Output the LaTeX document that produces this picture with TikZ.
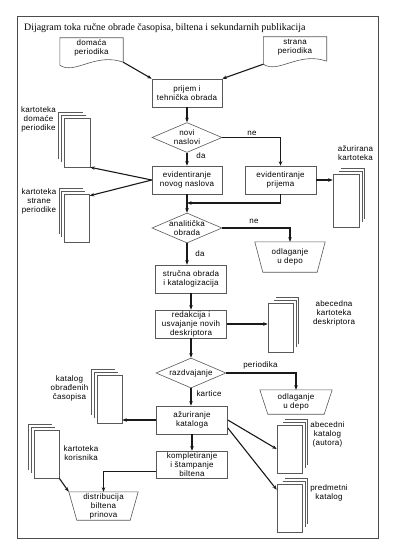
\documentclass[tikz,border=0pt]{standalone}
\usepackage{fontspec}
\setmainfont{Liberation Serif}
\setsansfont[LetterSpace=3]{Liberation Sans}
\usetikzlibrary{shapes.geometric, arrows.meta, positioning}

\tikzset{
  txt/.style={font=\sffamily\fontsize{8}{9}\selectfont, align=center, inner sep=0pt},
  shapeline/.style={draw=black!65, line width=0.6pt},
  process/.style={txt, shapeline, rectangle, minimum width=70pt, minimum height=28pt},
  decision/.style={txt, shapeline, diamond, minimum width=70pt, minimum height=30pt,
    inner xsep=-14pt, inner ysep=-6pt},
  docshape/.style={txt, minimum width=63pt, minimum height=20pt,
    append after command={\pgfextra{
      \draw[shapeline] ([yshift=-4pt]\tikzlastnode.south east) -- (\tikzlastnode.north east)
        -- (\tikzlastnode.north west) -- ([yshift=-7pt]\tikzlastnode.south west)
        .. controls +(15pt,-10pt) and +(-28pt,10pt) .. ([yshift=-4pt]\tikzlastnode.south east);}}},
  trapbox/.style={txt, minimum width=70pt, minimum height=30pt,
    append after command={\pgfextra{
      \draw[shapeline] (\tikzlastnode.north west) -- (\tikzlastnode.north east)
        -- ([xshift=-8pt]\tikzlastnode.south east) -- ([xshift=8pt]\tikzlastnode.south west) -- cycle;}}},
  stackL/.style={shapeline, rectangle, minimum width=25pt, minimum height=48pt, inner sep=0pt,
    append after command={\pgfextra{
      \draw[shapeline] ([shift={(-2.5pt,5.5pt)}]\tikzlastnode.south west) -- ([shift={(-2.5pt,2.5pt)}]\tikzlastnode.north west)
        -- ([shift={(-4.5pt,2.5pt)}]\tikzlastnode.north east);
      \draw[shapeline] ([shift={(-5pt,8pt)}]\tikzlastnode.south west) -- ([shift={(-5pt,5pt)}]\tikzlastnode.north west)
        -- ([shift={(-7pt,5pt)}]\tikzlastnode.north east);}}},
  stackR/.style={shapeline, rectangle, minimum width=25pt, minimum height=48pt, inner sep=0pt,
    append after command={\pgfextra{
      \draw[shapeline] ([shift={(6pt,2.5pt)}]\tikzlastnode.north west) -- ([shift={(2.5pt,2.5pt)}]\tikzlastnode.north east)
        -- ([shift={(2.5pt,5.5pt)}]\tikzlastnode.south east);
      \draw[shapeline] ([shift={(8.5pt,5pt)}]\tikzlastnode.north west) -- ([shift={(5pt,5pt)}]\tikzlastnode.north east)
        -- ([shift={(5pt,8pt)}]\tikzlastnode.south east);}}},
  conn/.style={draw=black!90, line width=1.1pt, ->},
}

\begin{document}
\begin{tikzpicture}[x=1pt, y=-1pt, >={Stealth[length=4.5pt, width=3.5pt]}]
  \useasboundingbox (0,0) rectangle (417,543);
  \fill[white] (0,0) rectangle (417,543);
  \draw[black!70, line width=0.8pt] (17,16) rectangle (378,538);

  \node[anchor=west, inner sep=0pt, font=\rmfamily\fontsize{9.9}{12}\selectfont] (title) at (24,28)
    {Dijagram toka ručne obrade časopisa, biltena i sekundarnih publikacija};

  % ulaz
  \node[docshape] (dom) at (91.5,48) {domaća\\periodika};
  \node[docshape] (str) at (295,47) {strana\\periodika};
  \node[process] (prijem) at (187,93) {prijem i\\tehnička obrada};
  \node[decision] (novi) at (187,137.5) {novi\\naslovi};
  \node[process] (evnov) at (187,180) {evidentiranje\\novog naslova};
  \node[process, minimum width=71pt] (evpri) at (280.5,180) {evidentiranje\\prijema};
  \coordinate (merge) at (187,203);

  % kartoteke
  \node[stackL, minimum width=26pt, minimum height=49pt] (kdp) at (77,142.5) {};
  \node[txt] (kdpl) at (38.5,119) {kartoteka\\domaće\\periodike};
  \node[stackL] (ksp) at (77,218) {};
  \node[txt] (kspl) at (39,201) {kartoteka\\strane\\periodike};
  \node[stackR, minimum width=26pt, minimum height=53pt] (azk) at (346,200.5) {};
  \node[txt] (azkl) at (355.5,153) {ažurirana\\kartoteka};

  % obrada
  \node[decision] (ana) at (187,228) {analitička\\obrada};
  \node[trapbox] (odl1) at (290,257) {odlaganje\\u depo};
  \node[process, minimum width=71pt] (stru) at (191,279) {stručna obrada\\i katalogizacija};
  \node[process, minimum width=71pt] (red) at (191,324) {redakcija i\\usvajanje novih\\deskriptora};
  \node[stackR, minimum height=49pt] (akd) at (280.5,327.5) {};
  \node[txt] (akdl) at (334,313) {abecedna\\kartoteka\\deskriptora};
  \node[decision] (raz) at (191,373) {razdvajanje};
  \node[trapbox, minimum width=72pt, minimum height=24pt] (odl2) at (296,402) {odlaganje\\u depo};

  % katalozi
  \node[stackL] (kat) at (109.5,399) {};
  \node[txt] (katl) at (69.5,388) {katalog\\obrađenih\\časopisa};
  \node[process, minimum width=71pt] (azu) at (192,420) {ažuriranje\\kataloga};
  \node[stackR] (abk) at (289.5,449) {};
  \node[txt] (abkl) at (327.5,434) {abecedni\\katalog\\(autora)};
  \node[stackR] (pmk) at (289.5,508) {};
  \node[txt] (pmkl) at (329,492.5) {predmetni\\katalog};
  \node[process, minimum width=71pt, minimum height=27pt] (kom) at (192,464.5) {kompletiranje\\i štampanje\\biltena};
  \node[trapbox, minimum width=69pt, minimum height=28pt] (dist) at (103.5,506) {distribucija\\biltena\\prinova};
  \node[stackL] (kko) at (46.5,454) {};
  \node[txt] (kkol) at (81,453) {kartoteka\\korisnika};

  % oznake
  \node[txt] (ne1) at (252,133) {ne};
  \node[txt] (da1) at (201,156) {da};
  \node[txt] (ne2) at (254,221) {ne};
  \node[txt] (da2) at (200,254) {da};
  \node[txt] (per) at (260.5,365) {periodika};
  \node[txt] (kar) at (209,394) {kartice};

  \draw[conn] ([yshift=-4pt]dom.south east) -- (prijem.north west);
  \draw[conn] ([yshift=-7pt]str.south west) -- (prijem.north east);
  \draw[conn] (prijem) -- (novi);
  \draw[conn] (novi) -- (evnov);
  \draw[conn] (novi.east) -| (evpri.north);
  \draw[conn] (evpri.east) -- (evpri.east -| azk.west);
  \draw[conn] (evpri.south) |- (merge);
  \draw[conn] (evnov) -- (ana);
  \draw[conn] (evnov.west) -- (kdp.south east);
  \draw[conn] (evnov.west) -- ([yshift=-2pt]ksp.north east);
  \draw[conn] (ana.east) -| (odl1.north);
  \draw[conn] (ana.south) -- (ana.south |- stru.north);
  \draw[conn] (stru) -- (red);
  \draw[conn] (red.east) -- (red.east -| akd.west);
  \draw[conn] (red) -- (raz);
  \draw[conn] (raz.east) -| (odl2.north);
  \draw[conn] (raz.south) -- (raz.south |- azu.north);
  \draw[conn] (azu.west) -- (azu.west -| kat.east);
  \draw[conn] (azu.east) -- (abk.west);
  \draw[conn] ([yshift=-8pt]azu.east) -- ([yshift=-6pt]pmk.north west);
  \draw[conn] (azu) -- (kom);
  \draw[conn] ([yshift=-7pt]kom.west) -| (dist.north);
  \draw[conn] (kko.south east) -- (dist.north west);
\end{tikzpicture}
\end{document}
